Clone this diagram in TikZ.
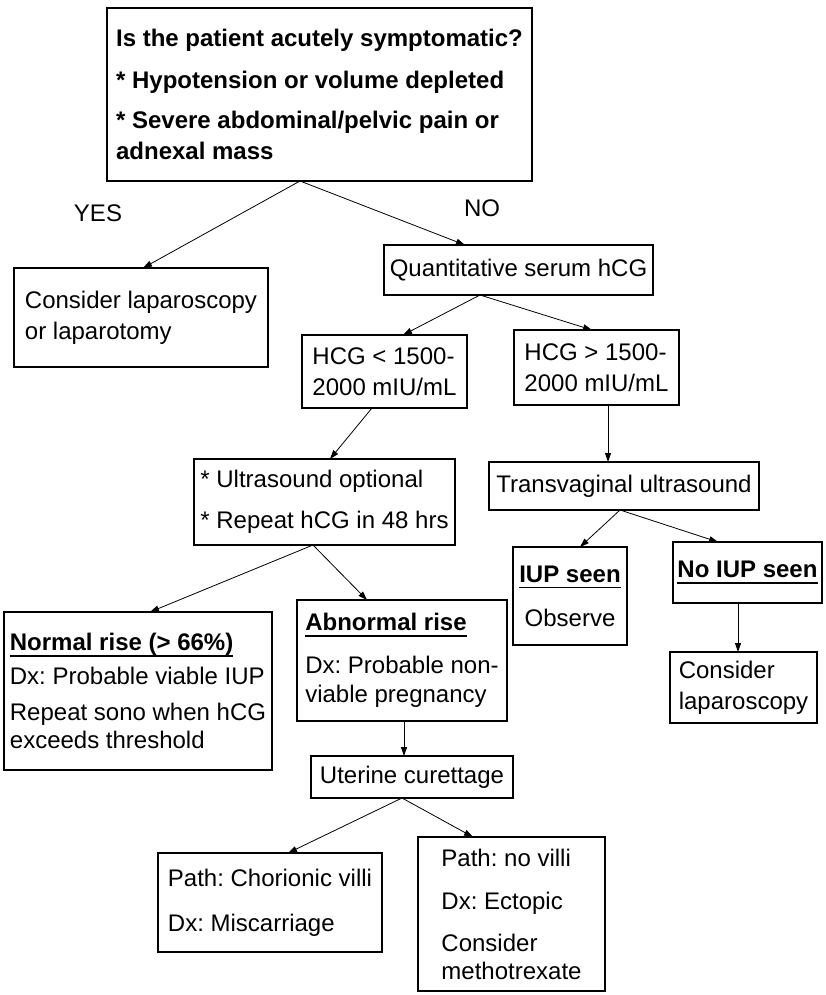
\documentclass[tikz,border=0pt]{standalone}
\usepackage{fontspec}
\setmainfont{Liberation Sans}
\usetikzlibrary{arrows.meta}
\newsavebox\headbox
\newcommand{\ulhead}[1]{\sbox\headbox{\bfseries #1}\rlap{\rule[-6pt]{\wd\headbox}{1.6pt}}\usebox\headbox}
\frenchspacing

\begin{document}
\begin{tikzpicture}[x=1pt,y=-1pt,
    box/.style={draw,line width=1.1pt,align=left,inner sep=3pt,outer sep=0pt,
      font=\fontsize{24}{31}\selectfont},
    arr/.style={line width=0.8pt,-{Triangle[length=9pt,width=6pt]}},
    lbl/.style={font=\fontsize{24}{29}\selectfont}]
  \useasboundingbox (0,0) rectangle (826,995);
  % first question
  \node[box,font=\fontsize{24}{31}\selectfont\bfseries,minimum width=425,minimum height=173]
    (sympt) at (319.5,94.5) {Is the patient acutely symptomatic?\\[11pt]
      * Hypotension or volume depleted\\[9pt]
      * Severe abdominal/pelvic pain or\\adnexal mass};
  \node[lbl] (yes) at (98,213) {YES};
  \node[lbl] (no) at (482,208) {NO};
  \node[box,minimum width=254,minimum height=99] (lapar) at (141,317.5)
    {Consider laparoscopy\\or laparotomy};
  \node[box,minimum width=269,minimum height=50] (quant) at (518.5,270)
    {Quantitative serum hCG};
  % hCG levels
  \node[box,minimum width=165,minimum height=73] (lowhcg) at (384.5,371.5)
    {HCG < 1500-\\2000 mIU/mL};
  \node[box,minimum width=165,minimum height=75] (highhcg) at (596.5,367.5)
    {HCG > 1500-\\2000 mIU/mL};
  \node[box,minimum width=261,minimum height=86] (repeat) at (324.5,502)
    {* Ultrasound optional\\[10pt]* Repeat hCG in 48 hrs};
  \node[box,minimum width=270,minimum height=48] (tvus) at (624,486)
    {Transvaginal ultrasound};
  % ultrasound results
  \node[box,align=center,minimum width=114,minimum height=98] (iup) at (570,596)
    {\ulhead{IUP seen}\\[13pt]Observe};
  \node[box,minimum width=149,minimum height=61] (noiup) at (747.5,572.5)
    {\ulhead{No IUP seen}};
  \node[box,minimum width=147,minimum height=71] (lapsc) at (743.5,687.5)
    {Consider\\laparoscopy};
  % repeat hCG results
  \node[box,minimum width=268,minimum height=158] (normal) at (138,691)
    {\ulhead{Normal rise (> 66\%)}\\[3pt]Dx: Probable viable IUP\\[5pt]
      Repeat sono when hCG\\[-3pt]exceeds threshold};
  \node[box,minimum width=210,minimum height=121] (abnormal) at (402,660.5)
    {\ulhead{Abnormal rise}\\[12pt]Dx: Probable non-\\[-2pt]viable pregnancy};
  \node[box,minimum width=202,minimum height=42] (curet) at (412,777)
    {Uterine curettage};
  \node[box,minimum width=224,minimum height=99] (villi) at (270,902.5)
    {Path: Chorionic villi\\[14pt]Dx: Miscarriage};
  \node[box,minimum width=187,minimum height=154] (novilli) at (511.5,914)
    {Path: no villi\\[12pt]Dx: Ectopic\\[11pt]Consider\\[-3pt]methotrexate};
  % connectors
  \draw[arr] ([xshift=-19.5pt]sympt.south) -- ([xshift=2pt]lapar.north);
  \draw[arr] ([xshift=-19.5pt]sympt.south) -- ([xshift=-53.5pt]quant.north);
  \draw[arr] ([xshift=-38.5pt]quant.south) -- ([xshift=18.5pt]lowhcg.north);
  \draw[arr] ([xshift=-38.5pt]quant.south) -- ([xshift=-4.5pt]highhcg.north);
  \draw[arr] ([xshift=-12.5pt]lowhcg.south) -- ([xshift=5.5pt]repeat.north);
  \draw[arr] ([xshift=11.5pt]highhcg.south) -- ([xshift=-16pt]tvus.north);
  \draw[arr] ([xshift=-11.5pt]repeat.south) -- ([xshift=12pt]normal.north);
  \draw[arr] ([xshift=-11.5pt]repeat.south) -- ([xshift=-35pt]abnormal.north);
  \draw[arr] ([xshift=-4pt]tvus.south) -- ([xshift=10pt]iup.north);
  \draw[arr] ([xshift=-4pt]tvus.south) -- ([xshift=-29.5pt]noiup.north);
  \draw[arr] ([xshift=-9.5pt]noiup.south) -- ([xshift=-5.5pt]lapsc.north);
  \draw[arr] ([xshift=2pt]abnormal.south) -- ([xshift=-8pt]curet.north);
  \draw[arr] ([xshift=-10pt]curet.south) -- ([xshift=18pt]villi.north);
  \draw[arr] ([xshift=-10pt]curet.south) -- ([xshift=-38.5pt]novilli.north);
\end{tikzpicture}
\end{document}
